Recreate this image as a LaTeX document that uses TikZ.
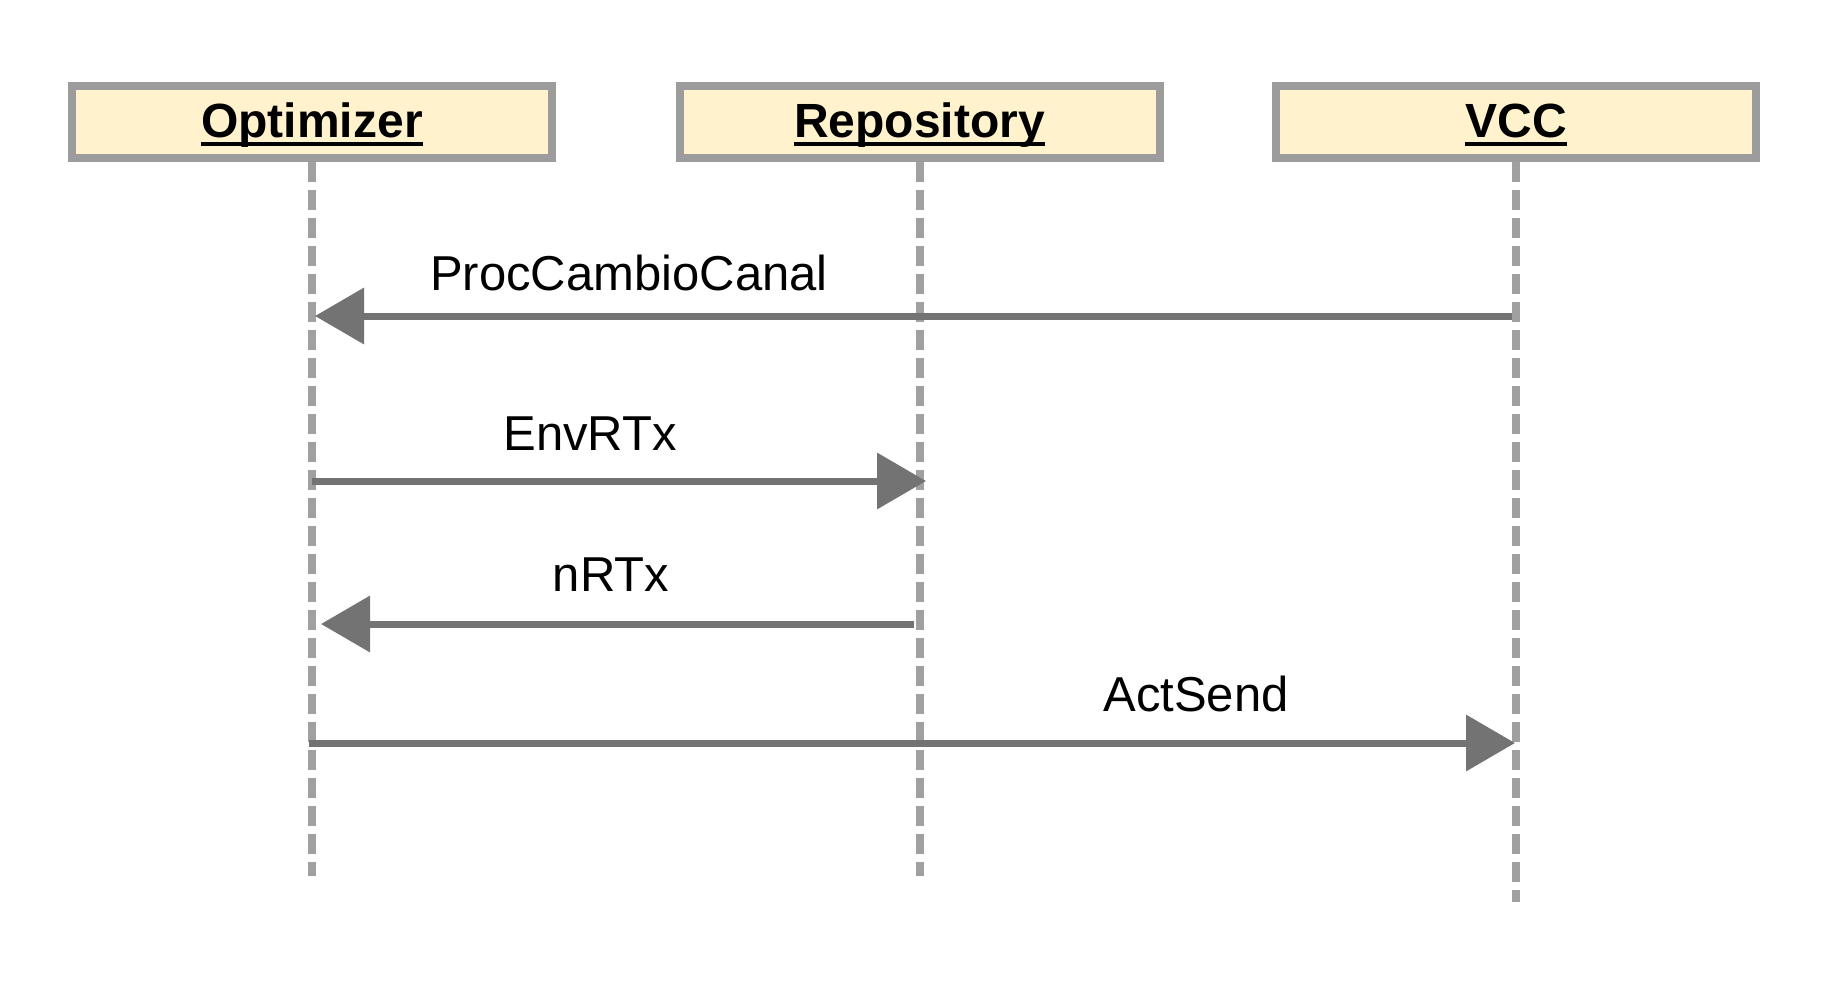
\documentclass[tikz,border=0pt]{standalone}
\usepackage{fontspec}
\setmainfont{Liberation Sans}
\usetikzlibrary{arrows.meta}
\definecolor{boxfill}{HTML}{FFF2CC}
\definecolor{boxline}{HTML}{9C9C9C}
\definecolor{lifeline}{HTML}{A0A0A0}
\definecolor{msgline}{HTML}{737373}
\newcommand\myul[1]{\setbox0=\hbox{#1}\rlap{\rule[-9pt]{\wd0}{4pt}}\box0}
\begin{document}
\begin{tikzpicture}[x=1pt,y=-1pt,
  actor/.style={draw=boxline,fill=boxfill,line width=8pt,minimum width=480pt,minimum height=72pt,inner sep=0pt,
    text height=30pt,text depth=0pt,font=\fontsize{48}{56}\selectfont\bfseries},
  lifel/.style={draw=lifeline,line width=8pt,dash pattern=on 20pt off 8pt},
  msg/.style={draw=msgline,line width=7pt,-{Triangle[length=49pt,width=55pt]}},
  lbl/.style={anchor=base,inner sep=0pt,font=\fontsize{49}{58}\selectfont}]
\useasboundingbox (0,0) rectangle (1844,982);
% lifelines
\coordinate (optT) at (312,162);
\coordinate (optB) at (312,876);
\coordinate (repT) at (919.5,162);
\coordinate (repB) at (919.5,876);
\coordinate (vccT) at (1516,162);
\coordinate (vccB) at (1516,902);
\draw[lifel] (optT) -- (optB);
\draw[lifel] (repT) -- (repB);
\draw[lifel] (vccT) -- (vccB);
% actors
\node[actor] (opt) at (312,122) {\myul{Optimizer}};
\node[actor] (rep) at (919.5,122) {\myul{Repository}};
\node[actor] (vcc) at (1516,122) {\myul{VCC}};
% message end points
\coordinate (m1s) at (1512,316);
\coordinate (m1e) at (315,316);
\coordinate (m2s) at (312,481);
\coordinate (m2e) at (926,481);
\coordinate (m3s) at (914,624);
\coordinate (m3e) at (321,624);
\coordinate (m4s) at (309,743);
\coordinate (m4e) at (1515,743);
\draw[msg] (m1s) -- (m1e);
\draw[msg] (m2s) -- (m2e);
\draw[msg] (m3s) -- (m3e);
\draw[msg] (m4s) -- (m4e);
% labels
\node[lbl] (l1) at (629,290) {ProcCambioCanal};
\node[lbl] (l2) at (590,450) {EnvRTx};
\node[lbl] (l3) at (611,591) {nRTx};
\node[lbl] (l4) at (1196,711) {ActSend};
\end{tikzpicture}
\end{document}
